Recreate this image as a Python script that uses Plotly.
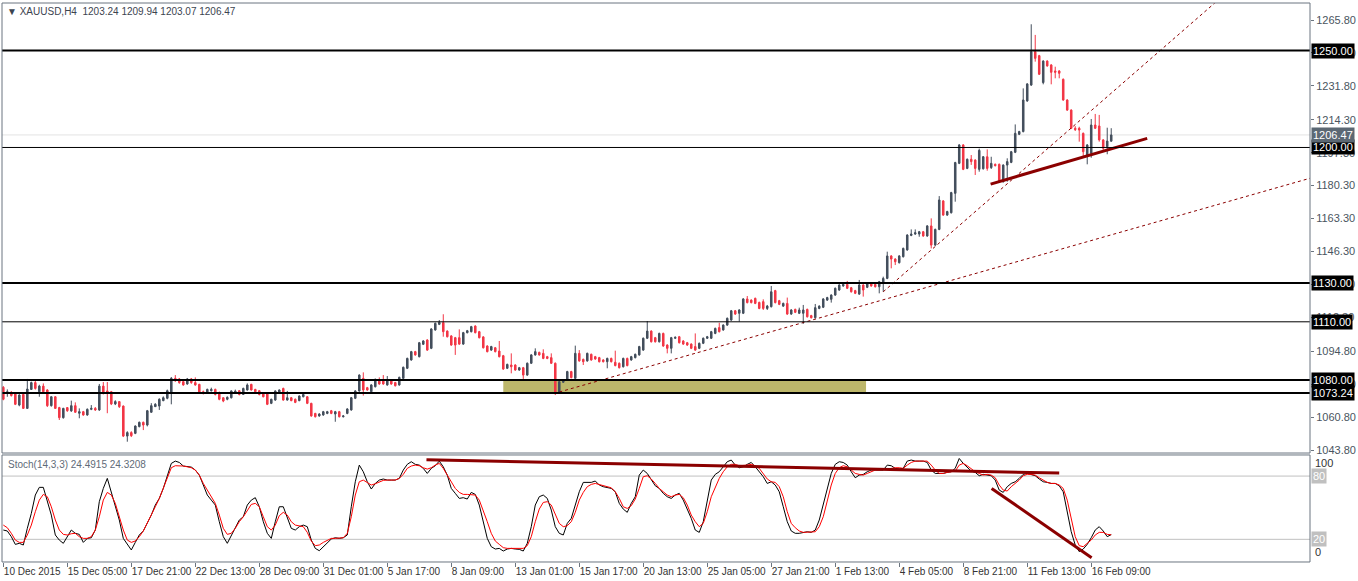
"""
XAUUSD H4 chart with support/resistance levels, trendlines and Stoch(14,3,3).
"""

import plotly.graph_objects as go

# ---------------------------------------------------------------- price data
# H4 candles, 10 Dec 2015 -> 16 Feb 2016 (bar index = position on chart)
opens = [
    1076.2, 1073.1, 1073.6, 1073.1, 1067.0, 1072.5, 1065.3, 1075.1, 1078.6, 1073.9,
    1076.8, 1074.8, 1066.7, 1071.3, 1065.7, 1060.5, 1065.7, 1064.0, 1066.7, 1062.8,
    1063.6, 1061.9, 1064.8, 1065.3, 1064.5, 1076.8, 1074.3, 1073.9, 1067.6, 1068.8,
    1066.5, 1051.0, 1052.8, 1052.4, 1055.9, 1058.1, 1056.7, 1063.3, 1066.2, 1066.5,
    1069.3, 1070.5, 1073.1, 1080.8, 1080.5, 1079.1, 1077.9, 1080.5, 1078.6, 1077.7,
    1073.9, 1073.6, 1074.4, 1075.1, 1073.1, 1070.8, 1070.0, 1070.8, 1073.4, 1074.4,
    1072.5, 1074.8, 1077.7, 1075.1, 1074.4, 1073.1, 1073.1, 1067.9, 1069.6, 1073.6,
    1075.6, 1069.6, 1070.8, 1070.0, 1069.3, 1071.3, 1071.3, 1067.9, 1062.7, 1061.4,
    1061.9, 1062.7, 1064.1, 1062.4, 1063.6, 1061.0, 1062.7, 1064.5, 1070.5, 1074.3,
    1080.8, 1076.0, 1073.9, 1076.5, 1079.4, 1079.4, 1077.4, 1079.4, 1078.6, 1077.4,
    1080.8, 1086.0, 1090.3, 1094.6, 1092.0, 1098.4, 1100.6, 1096.3, 1105.8, 1108.7,
    1109.6, 1105.2, 1102.7, 1101.8, 1101.8, 1098.5, 1104.4, 1104.9, 1107.8, 1104.9,
    1102.2, 1097.5, 1095.4, 1096.6, 1094.9, 1092.5, 1086.0, 1087.7, 1087.7, 1085.1,
    1086.3, 1082.5, 1088.6, 1092.9, 1094.2, 1093.7, 1092.0, 1091.5, 1088.6, 1073.6,
    1078.8, 1080.0, 1084.3, 1080.8, 1093.7, 1090.6, 1089.8, 1093.2, 1092.0, 1091.5,
    1090.3, 1089.4, 1091.1, 1089.1, 1088.6, 1086.8, 1091.1, 1090.3, 1091.5, 1092.9,
    1095.4, 1101.5, 1105.2, 1101.8, 1099.7, 1104.0, 1098.0, 1096.3, 1101.5, 1102.3,
    1100.1, 1099.2, 1098.5, 1097.2, 1096.3, 1098.9, 1101.5, 1101.5, 1104.0, 1107.0,
    1105.8, 1108.3, 1110.9, 1115.7, 1114.4, 1114.4, 1121.8, 1121.2, 1122.1, 1120.0,
    1120.4, 1116.9, 1117.8, 1126.1, 1120.9, 1118.1, 1119.5, 1114.0, 1116.4, 1114.4,
    1114.4, 1116.4, 1113.2, 1112.1, 1116.9, 1117.5, 1121.2, 1121.6, 1123.8, 1126.4,
    1128.5, 1129.3, 1127.6, 1126.1, 1124.3, 1129.0, 1127.8, 1129.9, 1129.3, 1128.1,
    1130.2, 1132.4, 1144.0, 1142.4, 1140.5, 1143.6, 1147.1, 1154.6, 1155.3, 1155.3,
    1156.5, 1154.3, 1159.5, 1149.6, 1157.7, 1172.4, 1165.1, 1166.3, 1176.3, 1191.8,
    1201.3, 1189.2, 1193.9, 1193.5, 1188.7, 1189.0, 1195.2, 1189.6, 1191.3, 1191.3,
    1182.3, 1190.9, 1192.3, 1197.5, 1206.8, 1208.2, 1224.0, 1232.2, 1249.5, 1247.4,
    1233.5, 1244.6, 1242.6, 1239.5, 1239.5, 1235.2, 1224.5, 1219.3, 1209.9, 1209.9,
    1207.3, 1196.1, 1197.0, 1211.6, 1211.1, 1203.9, 1200.4, 1203.24,
]
highs = [
    1076.8, 1075.1, 1074.2, 1073.6, 1072.6, 1073.0, 1080.5, 1079.1, 1080.3, 1077.5,
    1078.2, 1075.2, 1071.6, 1071.6, 1066.1, 1065.6, 1066.0, 1069.3, 1068.4, 1065.3,
    1064.0, 1065.3, 1067.0, 1066.0, 1077.9, 1078.9, 1078.9, 1074.3, 1069.5, 1069.0,
    1066.8, 1053.5, 1053.5, 1056.5, 1058.5, 1058.5, 1064.5, 1068.0, 1068.0, 1070.5,
    1071.5, 1075.0, 1081.5, 1082.5, 1081.0, 1079.5, 1081.0, 1081.0, 1081.3, 1078.0,
    1074.5, 1075.5, 1076.0, 1075.5, 1074.0, 1071.0, 1071.5, 1074.6, 1075.0, 1074.8,
    1076.0, 1078.2, 1078.0, 1075.4, 1074.8, 1073.4, 1073.5, 1070.3, 1074.6, 1075.1,
    1076.0, 1074.3, 1071.2, 1070.4, 1072.0, 1072.8, 1071.6, 1068.2, 1063.0, 1062.8,
    1064.0, 1064.0, 1064.5, 1064.0, 1064.0, 1061.8, 1065.4, 1071.2, 1074.7, 1082.9,
    1083.9, 1076.4, 1077.8, 1080.7, 1081.3, 1082.5, 1082.0, 1079.8, 1079.0, 1081.7,
    1086.9, 1091.5, 1095.0, 1095.0, 1099.6, 1100.5, 1101.0, 1106.7, 1109.6, 1110.9,
    1113.9, 1105.6, 1103.1, 1102.2, 1106.1, 1104.8, 1105.8, 1107.9, 1108.2, 1105.3,
    1102.6, 1097.9, 1097.6, 1097.0, 1100.1, 1092.9, 1088.4, 1093.7, 1088.1, 1086.7,
    1086.7, 1089.0, 1093.3, 1096.3, 1094.6, 1095.8, 1092.4, 1093.7, 1089.0, 1079.5,
    1080.4, 1084.7, 1084.7, 1097.7, 1095.4, 1091.0, 1094.1, 1093.6, 1092.4, 1091.9,
    1090.7, 1091.5, 1091.5, 1095.1, 1089.0, 1091.5, 1091.5, 1092.4, 1093.6, 1097.6,
    1101.9, 1110.4, 1105.6, 1102.2, 1104.4, 1104.4, 1098.4, 1102.2, 1102.4, 1102.7,
    1100.5, 1099.6, 1098.9, 1104.0, 1099.3, 1101.9, 1102.7, 1105.3, 1107.0, 1109.5,
    1108.7, 1112.2, 1116.1, 1116.1, 1116.5, 1122.2, 1123.3, 1121.6, 1122.5, 1120.4,
    1121.6, 1118.7, 1128.5, 1126.5, 1121.3, 1119.9, 1122.5, 1116.5, 1116.8, 1117.3,
    1118.7, 1116.8, 1113.6, 1119.2, 1118.5, 1122.2, 1122.9, 1124.2, 1127.7, 1129.4,
    1129.7, 1131.1, 1128.0, 1126.5, 1131.6, 1129.4, 1130.3, 1130.3, 1129.7, 1131.1,
    1133.3, 1146.2, 1144.4, 1142.8, 1144.4, 1148.3, 1155.2, 1157.7, 1157.7, 1156.9,
    1156.9, 1159.9, 1163.4, 1158.1, 1174.9, 1172.8, 1167.3, 1177.1, 1192.6, 1201.7,
    1201.7, 1194.3, 1196.1, 1193.9, 1199.4, 1195.6, 1199.0, 1195.2, 1191.7, 1191.7,
    1191.3, 1194.4, 1198.2, 1211.9, 1208.6, 1230.5, 1233.2, 1263.6, 1258.1, 1247.8,
    1245.0, 1245.0, 1243.0, 1241.7, 1239.9, 1235.6, 1224.9, 1219.7, 1211.0, 1210.7,
    1207.7, 1201.7, 1214.7, 1217.3, 1216.8, 1204.3, 1210.2, 1209.94,
]
lows = [
    1069.5, 1071.3, 1071.4, 1067.0, 1066.4, 1065.0, 1065.0, 1074.8, 1075.0, 1071.3,
    1073.5, 1066.0, 1066.2, 1065.0, 1059.3, 1060.0, 1063.5, 1063.5, 1063.0, 1060.2,
    1061.5, 1061.5, 1064.4, 1064.0, 1064.0, 1072.5, 1062.8, 1067.0, 1067.0, 1065.5,
    1050.5, 1048.1, 1050.5, 1052.0, 1055.5, 1054.1, 1056.0, 1063.0, 1066.0, 1064.5,
    1069.0, 1070.0, 1067.4, 1079.0, 1078.0, 1077.0, 1077.5, 1078.0, 1077.0, 1073.0,
    1072.5, 1073.0, 1074.0, 1072.0, 1069.5, 1068.5, 1069.5, 1070.4, 1072.8, 1072.0,
    1072.2, 1074.5, 1074.5, 1073.5, 1072.0, 1071.0, 1067.0, 1067.5, 1069.2, 1073.3,
    1069.3, 1069.3, 1069.0, 1068.0, 1069.0, 1071.0, 1067.5, 1061.0, 1060.6, 1061.0,
    1061.5, 1062.3, 1062.3, 1058.4, 1060.6, 1060.6, 1062.3, 1064.1, 1070.1, 1073.9,
    1071.9, 1074.4, 1073.5, 1076.1, 1077.5, 1077.5, 1077.0, 1077.5, 1076.6, 1077.0,
    1080.4, 1085.6, 1089.9, 1092.5, 1091.6, 1098.0, 1095.0, 1095.9, 1105.4, 1108.3,
    1102.3, 1101.9, 1097.6, 1092.9, 1098.1, 1098.1, 1104.0, 1104.5, 1104.0, 1101.4,
    1096.2, 1094.2, 1095.0, 1094.2, 1091.6, 1085.2, 1085.6, 1083.4, 1084.7, 1084.7,
    1080.5, 1082.1, 1088.2, 1092.5, 1092.5, 1090.7, 1090.7, 1088.2, 1072.2, 1073.2,
    1078.4, 1079.6, 1080.8, 1080.4, 1089.4, 1087.7, 1089.4, 1089.9, 1090.4, 1089.0,
    1089.0, 1086.0, 1089.0, 1087.0, 1085.9, 1086.4, 1087.0, 1089.9, 1091.1, 1092.5,
    1095.0, 1101.1, 1099.3, 1099.3, 1099.3, 1097.1, 1093.7, 1093.7, 1101.1, 1098.8,
    1098.1, 1097.6, 1095.9, 1095.0, 1095.9, 1098.5, 1101.1, 1101.1, 1103.6, 1104.5,
    1105.4, 1107.9, 1110.5, 1113.6, 1110.1, 1114.0, 1119.5, 1119.5, 1119.1, 1116.5,
    1116.1, 1116.1, 1117.4, 1119.5, 1118.6, 1117.7, 1113.6, 1113.6, 1114.5, 1114.0,
    1108.9, 1112.2, 1111.7, 1111.7, 1116.5, 1117.1, 1120.8, 1119.9, 1123.4, 1126.0,
    1128.1, 1126.9, 1125.1, 1124.3, 1123.9, 1123.0, 1127.4, 1128.1, 1127.7, 1124.7,
    1125.5, 1132.0, 1137.6, 1139.3, 1140.1, 1143.2, 1146.7, 1154.2, 1154.9, 1153.9,
    1153.9, 1153.9, 1147.9, 1149.2, 1157.3, 1164.7, 1164.7, 1165.9, 1172.0, 1191.4,
    1188.3, 1188.8, 1191.0, 1185.8, 1187.5, 1188.6, 1188.0, 1188.9, 1190.2, 1181.9,
    1181.9, 1182.3, 1191.9, 1197.1, 1206.4, 1207.8, 1223.6, 1231.8, 1244.3, 1237.4,
    1232.6, 1241.7, 1232.6, 1235.7, 1235.7, 1224.1, 1218.9, 1209.5, 1208.5, 1203.0,
    1195.2, 1191.3, 1194.7, 1209.5, 1203.0, 1198.7, 1196.5, 1203.07,
]
closes = [
    1070.0, 1073.9, 1071.9, 1067.4, 1072.2, 1065.3, 1075.3, 1078.6, 1075.6, 1076.8,
    1073.9, 1066.7, 1071.3, 1065.3, 1060.5, 1065.3, 1064.1, 1066.7, 1063.3, 1063.6,
    1061.9, 1064.8, 1065.3, 1064.5, 1076.8, 1073.1, 1073.1, 1067.6, 1068.8, 1066.2,
    1051.0, 1052.8, 1051.2, 1056.2, 1058.1, 1056.7, 1064.1, 1066.7, 1067.4, 1070.0,
    1070.8, 1074.4, 1080.8, 1079.6, 1078.6, 1077.4, 1080.5, 1078.6, 1077.4, 1073.6,
    1073.1, 1075.1, 1075.1, 1072.5, 1070.0, 1069.1, 1071.0, 1074.3, 1074.2, 1072.5,
    1075.6, 1077.4, 1074.8, 1073.9, 1072.5, 1071.3, 1067.4, 1070.0, 1074.3, 1074.8,
    1069.6, 1070.8, 1069.3, 1068.4, 1071.7, 1072.5, 1067.9, 1061.4, 1061.0, 1062.4,
    1063.6, 1063.6, 1062.7, 1063.6, 1061.0, 1061.4, 1065.0, 1070.8, 1074.3, 1082.5,
    1074.8, 1074.8, 1077.4, 1080.3, 1077.9, 1077.9, 1079.4, 1077.9, 1077.0, 1081.3,
    1086.5, 1091.1, 1094.6, 1092.9, 1099.2, 1100.1, 1095.4, 1106.3, 1109.2, 1109.7,
    1104.9, 1102.3, 1098.0, 1098.0, 1098.5, 1104.4, 1105.4, 1107.5, 1104.4, 1101.8,
    1096.6, 1094.6, 1097.2, 1094.6, 1092.0, 1085.6, 1088.0, 1086.8, 1085.1, 1086.3,
    1082.5, 1088.6, 1092.9, 1094.6, 1092.9, 1091.1, 1091.1, 1088.6, 1073.1, 1079.1,
    1080.0, 1084.3, 1081.2, 1093.7, 1089.8, 1089.4, 1093.7, 1090.3, 1090.8, 1089.4,
    1089.4, 1091.1, 1089.4, 1087.4, 1086.3, 1091.1, 1087.4, 1092.0, 1093.2, 1097.2,
    1101.5, 1105.2, 1099.7, 1099.7, 1104.0, 1097.5, 1096.3, 1101.8, 1102.0, 1099.2,
    1098.5, 1098.0, 1096.3, 1095.4, 1098.9, 1101.5, 1102.3, 1104.9, 1106.6, 1104.9,
    1108.3, 1111.8, 1115.7, 1114.0, 1116.1, 1121.8, 1119.9, 1119.9, 1119.5, 1116.9,
    1116.9, 1118.1, 1125.5, 1119.9, 1119.0, 1119.5, 1114.0, 1116.1, 1114.9, 1116.1,
    1116.1, 1112.6, 1112.1, 1117.3, 1118.1, 1121.8, 1122.5, 1123.8, 1127.3, 1129.0,
    1129.3, 1127.3, 1125.5, 1124.7, 1129.0, 1126.4, 1129.9, 1128.5, 1128.1, 1130.7,
    1132.4, 1144.0, 1142.4, 1141.0, 1144.0, 1147.9, 1154.8, 1155.3, 1156.0, 1156.5,
    1154.3, 1159.5, 1149.6, 1157.7, 1172.9, 1165.1, 1166.9, 1176.7, 1192.2, 1201.3,
    1188.7, 1193.9, 1192.7, 1189.2, 1198.5, 1195.2, 1189.2, 1191.8, 1190.6, 1182.3,
    1190.9, 1192.7, 1197.8, 1207.3, 1208.2, 1224.5, 1232.8, 1249.5, 1246.0, 1237.8,
    1244.6, 1242.1, 1238.8, 1238.8, 1238.3, 1224.5, 1219.3, 1209.9, 1209.2, 1209.0,
    1197.8, 1201.3, 1211.6, 1209.9, 1203.9, 1199.6, 1203.3, 1206.47,
]
bars = list(range(len(closes)))

# Stochastic (14,3,3): main %K and signal %D
stoch_k = [
    28.8, 27.9, 22.5, 15.2, 16.2, 14.6, 30.4, 44.6, 62.0, 69.3,
    69.3, 55.7, 43.0, 24.1, 19.3, 16.2, 22.5, 28.8, 25.7, 24.7,
    17.1, 20.9, 21.5, 28.8, 55.7, 68.3, 77.8, 65.1, 52.5, 38.3,
    20.9, 15.2, 9.9, 17.1, 24.1, 27.9, 35.1, 43.0, 52.5, 58.8,
    68.3, 80.9, 92.0, 94.2, 92.9, 89.5, 88.8, 88.5, 85.7, 80.9,
    71.5, 62.0, 57.2, 52.5, 36.7, 22.5, 16.2, 24.1, 32.0, 38.3,
    41.4, 52.5, 57.2, 59.5, 50.9, 36.7, 25.7, 20.9, 36.7, 50.9,
    50.9, 41.4, 30.4, 28.8, 32.0, 33.5, 32.0, 19.3, 11.4, 9.2,
    13.0, 17.1, 20.3, 21.5, 20.9, 21.5, 24.1, 50.9, 74.6, 90.4,
    84.1, 74.6, 67.7, 73.0, 76.2, 77.2, 76.2, 76.2, 76.2, 77.8,
    85.7, 91.1, 93.6, 91.1, 90.4, 87.3, 82.5, 87.3, 89.8, 94.2,
    88.8, 80.9, 68.3, 63.6, 58.8, 59.5, 58.2, 64.5, 62.6, 52.5,
    36.7, 20.9, 13.0, 10.8, 11.4, 8.9, 10.8, 11.4, 10.8, 10.5,
    8.9, 16.2, 32.0, 52.5, 60.4, 62.0, 58.8, 47.8, 32.0, 25.7,
    24.1, 35.1, 39.9, 52.5, 65.1, 74.0, 74.0, 74.0, 75.3, 71.5,
    69.9, 68.9, 68.3, 65.1, 54.1, 48.7, 45.6, 54.1, 60.4, 80.9,
    85.7, 82.5, 76.2, 70.8, 68.3, 63.6, 60.4, 58.8, 62.0, 63.6,
    57.2, 49.3, 39.9, 28.8, 26.6, 36.7, 55.7, 76.2, 81.6, 84.1,
    88.8, 93.6, 95.2, 90.4, 87.9, 88.8, 91.1, 92.9, 88.8, 84.1,
    79.4, 73.0, 74.6, 71.5, 65.1, 50.9, 36.7, 27.9, 25.7, 25.7,
    26.6, 27.2, 26.6, 28.8, 38.3, 52.5, 68.3, 82.5, 91.1, 93.6,
    92.9, 90.4, 84.1, 78.4, 80.9, 81.6, 84.1, 85.7, 85.7, 85.7,
    85.7, 90.4, 89.8, 87.3, 86.6, 87.3, 94.2, 95.2, 94.2, 94.2,
    94.2, 92.9, 85.7, 82.5, 82.5, 82.5, 83.5, 84.1, 87.3, 96.7,
    92.0, 87.9, 84.7, 83.5, 80.3, 81.6, 80.9, 80.3, 76.2, 66.7,
    64.5, 69.9, 73.0, 74.6, 77.8, 81.6, 82.5, 81.6, 80.3, 77.2,
    74.6, 74.0, 73.0, 73.0, 70.8, 65.1, 47.8, 27.2, 14.6, 8.3,
    10.8, 15.2, 21.5, 28.8, 32.0, 27.9, 22.5, 24.4915,
]
stoch_d = [
    33.5, 31.0, 25.7, 19.3, 17.1, 17.1, 24.1, 33.5, 46.2, 57.2,
    62.6, 60.4, 50.9, 38.3, 28.8, 24.7, 24.1, 25.3, 25.7, 22.5,
    20.9, 20.9, 22.5, 28.8, 41.4, 57.2, 64.5, 62.0, 54.1, 41.4,
    28.8, 19.3, 17.1, 18.4, 22.5, 27.9, 35.1, 43.0, 50.9, 58.8,
    68.3, 79.4, 87.9, 89.8, 89.8, 89.5, 88.8, 87.9, 85.7, 80.9,
    73.0, 66.7, 60.4, 54.1, 43.0, 30.4, 24.7, 25.7, 30.4, 36.7,
    41.4, 47.8, 53.1, 54.1, 50.9, 41.4, 32.0, 28.8, 33.5, 42.4,
    45.6, 43.0, 36.7, 33.5, 32.9, 32.0, 26.6, 18.4, 14.0, 14.6,
    17.1, 19.3, 20.9, 20.9, 20.9, 21.5, 25.7, 41.4, 62.0, 74.6,
    76.2, 74.0, 71.5, 72.7, 74.6, 75.9, 76.2, 76.2, 76.2, 77.8,
    81.6, 87.3, 89.5, 90.4, 89.8, 87.9, 86.6, 87.9, 90.4, 92.0,
    87.3, 80.9, 74.6, 68.3, 64.5, 62.6, 62.6, 62.6, 62.0, 57.2,
    47.8, 36.7, 25.7, 18.4, 15.2, 12.1, 11.4, 11.4, 11.4, 11.4,
    11.4, 14.0, 22.5, 36.7, 48.7, 55.0, 55.7, 52.5, 43.0, 35.1,
    32.0, 32.9, 36.7, 45.6, 57.2, 64.5, 69.9, 72.1, 73.0, 72.1,
    70.8, 69.9, 68.9, 65.1, 58.8, 50.9, 49.3, 51.9, 58.2, 68.3,
    79.4, 80.3, 77.2, 73.0, 68.3, 65.1, 62.0, 60.4, 62.0, 62.6,
    59.5, 52.5, 43.0, 36.7, 32.0, 35.1, 46.2, 60.4, 69.9, 77.8,
    84.1, 88.8, 91.1, 91.1, 89.8, 89.8, 90.4, 91.1, 89.8, 87.3,
    82.5, 77.2, 74.6, 74.0, 69.9, 60.4, 46.2, 35.1, 31.0, 27.9,
    26.6, 26.6, 26.6, 27.2, 32.0, 41.4, 56.3, 71.5, 82.5, 87.9,
    89.8, 88.8, 85.7, 82.5, 81.6, 80.9, 82.5, 84.1, 85.7, 85.7,
    86.6, 86.6, 87.3, 87.9, 87.9, 87.3, 90.4, 92.9, 94.2, 94.2,
    94.2, 94.2, 90.4, 85.7, 82.5, 82.5, 83.5, 84.1, 84.7, 90.4,
    92.0, 89.8, 86.6, 84.1, 82.5, 80.9, 81.6, 80.9, 78.4, 71.5,
    66.7, 65.8, 69.9, 73.0, 76.2, 80.3, 81.6, 81.6, 80.9, 78.4,
    76.2, 74.0, 73.0, 73.0, 71.5, 68.3, 57.2, 38.3, 22.5, 14.0,
    13.0, 16.2, 19.3, 24.1, 26.6, 26.6, 24.7, 24.3208,
]

# horizontal levels drawn on the chart
levels = [1250.00, 1200.00, 1130.00, 1110.00, 1080.00, 1073.24]
level_widths = [2, 1, 2, 1, 2, 2]
last_price = 1206.47

# support zone between 1073.24 and 1080 (bar span)
zone_bars = [125, 215.7]

# trendlines: (bar, price) end points
support_bars = [139, 326.7]
support_prices = [1073.75, 1184.1]
steep_bars = [220, 302.9]
steep_prices = [1125.5, 1274.6]
rising_bars = [246.85, 286]
rising_prices = [1181.1, 1204.7]

# stochastic trendlines
stoch_top_bars = [105.8, 264]
stoch_top_vals = [95.5, 82.8]
stoch_down_bars = [247.1, 272.1]
stoch_down_vals = [68.3, 2.6]

# axis ticks
price_ticks = [1265.80, 1248.80, 1231.80, 1214.30, 1197.30, 1180.30, 1163.30,
               1146.30, 1129.30, 1112.30, 1094.80, 1077.80, 1060.80, 1043.80]
time_tick_bars = [0, 16, 32, 48, 64, 80, 96, 112, 128, 144, 160, 176, 192,
                  208, 224, 240, 256, 272]
time_tick_labels = ['10 Dec 2015', '15 Dec 05:00', '17 Dec 21:00', '22 Dec 13:00',
                    '28 Dec 09:00', '31 Dec 01:00', '5 Jan 17:00', '8 Jan 09:00',
                    '13 Jan 01:00', '15 Jan 17:00', '20 Jan 13:00', '25 Jan 05:00',
                    '27 Jan 21:00', '1 Feb 13:00', '4 Feb 05:00', '8 Feb 21:00',
                    '11 Feb 13:00', '16 Feb 09:00']

FONT = 'Liberation Sans, Arial, sans-serif'
BULL = '#434e5c'
BEAR = '#f23645'
FRAME = '#6b7580'
TREND = '#8b0000'

fig = go.Figure()

fig.add_trace(go.Candlestick(
    x=bars, open=opens, high=highs, low=lows, close=closes,
    increasing=dict(line=dict(color=BULL, width=1), fillcolor=BULL),
    decreasing=dict(line=dict(color=BEAR, width=1), fillcolor=BEAR),
    whiskerwidth=0, showlegend=False, hoverinfo='skip',
    xaxis='x', yaxis='y'
))

# dotted trendlines
for bx, py in ((support_bars, support_prices), (steep_bars, steep_prices)):
    fig.add_trace(go.Scatter(
        x=bx, y=py, mode='lines', xaxis='x', yaxis='y',
        line=dict(color=TREND, width=1, dash='3px,3px'),
        showlegend=False, hoverinfo='skip'
    ))

fig.add_trace(go.Scatter(
    x=rising_bars, y=rising_prices, mode='lines', xaxis='x', yaxis='y',
    line=dict(color=TREND, width=3), showlegend=False, hoverinfo='skip'
))

# stochastic lines
fig.add_trace(go.Scatter(
    x=bars, y=stoch_k, mode='lines', xaxis='x', yaxis='y2',
    line=dict(color='black', width=1), showlegend=False, hoverinfo='skip'
))
fig.add_trace(go.Scatter(
    x=bars, y=stoch_d, mode='lines', xaxis='x', yaxis='y2',
    line=dict(color='#ff0000', width=1), showlegend=False, hoverinfo='skip'
))
for bx, vy in ((stoch_top_bars, stoch_top_vals), (stoch_down_bars, stoch_down_vals)):
    fig.add_trace(go.Scatter(
        x=bx, y=vy, mode='lines', xaxis='x', yaxis='y2',
        line=dict(color=TREND, width=3), showlegend=False, hoverinfo='skip'
    ))

shapes = []
# support zone
shapes.append(dict(type='rect', xref='x', yref='y',
                   x0=zone_bars[0], x1=zone_bars[1], y0=levels[5], y1=levels[4],
                   fillcolor='#bdb76b', line=dict(width=0), layer='below'))
# last price line
shapes.append(dict(type='line', xref='paper', yref='y', x0=0, x1=1,
                   y0=last_price, y1=last_price,
                   line=dict(color='#e3e3e3', width=1), layer='below'))
for lv, w in zip(levels, level_widths):
    shapes.append(dict(type='line', xref='paper', yref='y', x0=0, x1=1,
                       y0=lv, y1=lv, line=dict(color='black', width=w)))
# stochastic 80 / 20 levels
for lv in (80, 20):
    shapes.append(dict(type='line', xref='paper', yref='y2', x0=0, x1=1,
                       y0=lv, y1=lv, line=dict(color='#c0c0c0', width=1),
                       layer='below'))
# pane frames
main_dom = [0.1964, 1.0]
stoch_dom = [0.0018, 0.1929]
for dom in (main_dom, stoch_dom):
    shapes.append(dict(type='rect', xref='paper', yref='paper',
                       x0=0, x1=1, y0=dom[0], y1=dom[1],
                       line=dict(color=FRAME, width=1)))

annotations = []
for lv in levels:
    annotations.append(dict(
        x=1, xref='paper', y=lv, yref='y', xanchor='left', yanchor='middle',
        xshift=1, text=f'{lv:.2f}', showarrow=False, bgcolor='black',
        borderpad=1, font=dict(family=FONT, size=11, color='white')
    ))
annotations.append(dict(
    x=1, xref='paper', y=last_price, yref='y', xanchor='left', yanchor='middle',
    xshift=1, text=f'{last_price:.2f}', showarrow=False, bgcolor='#5c6873',
    borderpad=1, font=dict(family=FONT, size=11, color='white')
))
# stochastic scale labels
annotations.append(dict(x=1, xref='paper', y=100, yref='y2', xanchor='left',
                        yanchor='top', xshift=3, text='100', showarrow=False,
                        font=dict(family=FONT, size=11, color='#333333')))
annotations.append(dict(x=1, xref='paper', y=0, yref='y2', xanchor='left',
                        yanchor='bottom', xshift=3, text='0', showarrow=False,
                        font=dict(family=FONT, size=11, color='#333333')))
for lv in (80, 20):
    annotations.append(dict(x=1, xref='paper', y=lv, yref='y2', xanchor='left',
                            yanchor='middle', xshift=1, text=str(lv),
                            showarrow=False, bgcolor='#c0c0c0', borderpad=1,
                            font=dict(family=FONT, size=11, color='white')))
# titles
annotations.append(dict(
    x=0, xref='paper', y=1, yref='paper', xanchor='left', yanchor='top',
    xshift=3, yshift=-1,
    text='\u25bc XAUUSD,H4  1203.24 1209.94 1203.07 1206.47', showarrow=False,
    font=dict(family=FONT, size=10, color='#3c4450')
))
annotations.append(dict(
    x=0, xref='paper', y=stoch_dom[1], yref='paper', xanchor='left',
    yanchor='top', xshift=4, yshift=-2,
    text='Stoch(14,3,3) 24.4915 24.3208', showarrow=False,
    font=dict(family=FONT, size=10, color='#5f6b78')
))

fig.update_layout(
    width=1358, height=581,
    margin=dict(l=2, r=48, t=3, b=18, autoexpand=False),
    paper_bgcolor='white', plot_bgcolor='white',
    showlegend=False,
    boxgap=0.45,
    font=dict(family=FONT, size=11, color='#333333'),
    xaxis=dict(
        domain=[0, 1], anchor='y2', range=[-0.33, 326.7],
        rangeslider=dict(visible=False), showgrid=False, zeroline=False,
        tickvals=time_tick_bars, ticktext=time_tick_labels,
        ticks='outside', ticklen=4, tickcolor=FRAME, tickangle=0,
        ticklabelposition='outside right', automargin=False,
        tickfont=dict(family=FONT, size=10, color='#333333'),
        showline=False
    ),
    yaxis=dict(
        domain=main_dom, anchor='x', side='right', automargin=False,
        range=[1042.26, 1274.58], showgrid=False, zeroline=False,
        tickvals=price_ticks, ticktext=[f'{v:.2f}' for v in price_ticks],
        ticks='outside', ticklen=3, tickcolor=FRAME,
        tickfont=dict(family=FONT, size=11, color='#4a5560'),
        showline=False
    ),
    yaxis2=dict(
        domain=stoch_dom, anchor='x', side='right', automargin=False,
        range=[-1.5, 100], showgrid=False, zeroline=False,
        showticklabels=False, ticks='', showline=False
    ),
    shapes=shapes,
    annotations=annotations,
)

# the page body has a default 8px margin; drop it so the chart fills the window
fig.write_html("out.html", config={'displayModeBar': False},
               post_script="document.body.style.margin='0';")
